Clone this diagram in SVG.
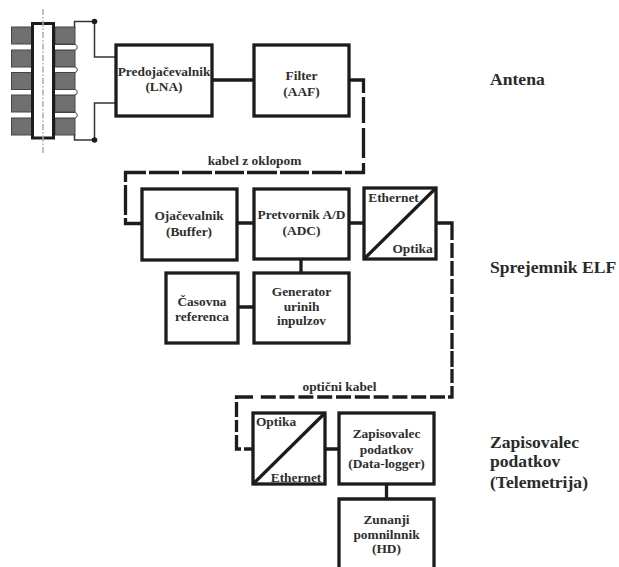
<svg xmlns="http://www.w3.org/2000/svg" width="619" height="567" viewBox="0 0 619 567">
<style>
.box{fill:#fff;stroke:#1c1c1c;stroke-width:3.300}
.wire{fill:none;stroke:#1c1c1c;stroke-width:3.300}
.thin{fill:none;stroke:#333;stroke-width:1.500}
.d2{stroke-dasharray:15 3.800}
.t{font-family:"Liberation Serif",serif;font-weight:bold;font-size:13.400px;fill:#2e2e2e;text-anchor:middle}
.s{font-family:"Liberation Serif",serif;font-weight:bold;font-size:17.600px;fill:#2a2a2a}
.g{fill:#707070;stroke:#444;stroke-width:1}
.loop{fill:#fff;stroke:#444;stroke-width:1}
</style>
<g id="antenna">
<rect class="g" x="11.500" y="27" width="20" height="17"/><rect class="g" x="11.500" y="50" width="20" height="17"/><rect class="g" x="11.500" y="72.500" width="20" height="17"/><rect class="g" x="11.500" y="95" width="20" height="17"/><rect class="g" x="11.500" y="118" width="20" height="17"/>
<rect class="g" x="55" y="27" width="20" height="17"/><rect class="g" x="55" y="50" width="20" height="17"/><rect class="g" x="55" y="72.500" width="20" height="17"/><rect class="g" x="55" y="95" width="20" height="17"/><rect class="g" x="55" y="118" width="20" height="17"/>
<path class="loop" d="M55 44.500H75a2.800 2.800 0 0 1 0 5.500H55M55 67H75a2.800 2.800 0 0 1 0 5.500H55M55 89.500H75a2.800 2.800 0 0 1 0 5.500H55M55 112.500H75a2.800 2.800 0 0 1 0 5.500H55"/>
<rect x="32.500" y="23.500" width="21" height="114.500" fill="#fff" stroke="#1c1c1c" stroke-width="3"/>
<path d="M43 9V153" fill="none" stroke="#aaa" stroke-width="1.500" stroke-dasharray="6 2 1.500 2"/>
<path class="thin" d="M74.500 27V21.500H94.500V57H116M74.500 135V140H94.500V103H116"/>
<circle cx="94.500" cy="21.500" r="2.800" fill="#1c1c1c"/><circle cx="94.500" cy="140" r="2.800" fill="#1c1c1c"/>
</g>
<g id="connectors">
<path class="wire" d="M212 80H254M237 223H254M349 223H364M301 259V273M238 307H254M325 449H339M386.500 484V499"/>
<path class="wire" d="M349 80H363.500V93M363.500 97V123M363.500 128V158M363.500 163V172.500H345M342 172.500H312M309 172.500H280M277 172.500H247M244 172.500H215M212 172.500H182M179 172.500H149M146 172.500H125.500V182M125.500 185V215M125.500 218V223.500H142"/>
<path class="wire" d="M436 223H452V240M452 243V258M452 261V276M452 279V294M452 297V312M452 315V330M452 333V349M452 351V367M452 369V383M452 386V397H448"/>
<path class="wire d2" d="M445 397H257"/>
<path class="wire" d="M253 397H236.500V399M236.500 402V417M236.500 420V432M236.500 435V449H241M244 449H253"/>
</g>
<g id="lna"><rect class="box" x="116" y="45" width="96" height="71"/><text class="t" x="164" y="76">Predojačevalnik</text><text class="t" x="164" y="91">(LNA)</text></g>
<g id="aaf"><rect class="box" x="254" y="45" width="95" height="71"/><text class="t" x="301.500" y="80">Filter</text><text class="t" x="301.500" y="96">(AAF)</text></g>
<g id="buffer"><rect class="box" x="142" y="189" width="95" height="71"/><text class="t" x="189" y="220">Ojačevalnik</text><text class="t" x="189" y="236">(Buffer)</text></g>
<g id="adc"><rect class="box" x="254" y="189" width="95" height="70"/><text class="t" x="301.500" y="219">Pretvornik A/D</text><text class="t" x="301.500" y="235">(ADC)</text></g>
<g id="eth-opt"><rect class="box" x="364" y="188" width="72" height="71"/><path class="wire" d="M364 259L436 188"/><text class="t" x="393.500" y="202">Ethernet</text><text class="t" x="412.500" y="253">Optika</text></g>
<g id="casovna"><rect class="box" x="166" y="273" width="72" height="70"/><text class="t" x="202" y="306">Časovna</text><text class="t" x="202" y="321">referenca</text></g>
<g id="generator"><rect class="box" x="254" y="273" width="95" height="70"/><text class="t" x="301.500" y="296">Generator</text><text class="t" x="301.500" y="311">urinih</text><text class="t" x="301.500" y="325">inpulzov</text></g>
<g id="opt-eth"><rect class="box" x="253" y="413" width="72" height="71"/><path class="wire" d="M253 484L325 413"/><text class="t" x="276" y="426">Optika</text><text class="t" x="296" y="482">Ethernet</text></g>
<g id="logger"><rect class="box" x="339" y="413" width="95" height="71"/><text class="t" x="386.500" y="438">Zapisovalec</text><text class="t" x="386.500" y="454">podatkov</text><text class="t" x="386.500" y="468">(Data-logger)</text></g>
<g id="hd"><path class="box" d="M339 569V499H434V569"/><text class="t" x="386.500" y="524">Zunanji</text><text class="t" x="386.500" y="539">pomnilnnik</text><text class="t" x="386.500" y="553">(HD)</text></g>
<g id="labels">
<text class="t" x="254.500" y="165">kabel z oklopom</text>
<text class="t" x="339.500" y="391">optični kabel</text>
<text class="s" x="490" y="85">Antena</text>
<text class="s" x="490" y="273">Sprejemnik ELF</text>
<text class="s" x="490" y="448">Zapisovalec</text>
<text class="s" x="490" y="467">podatkov</text>
<text class="s" x="490" y="488">(Telemetrija)</text>
</g>
</svg>
